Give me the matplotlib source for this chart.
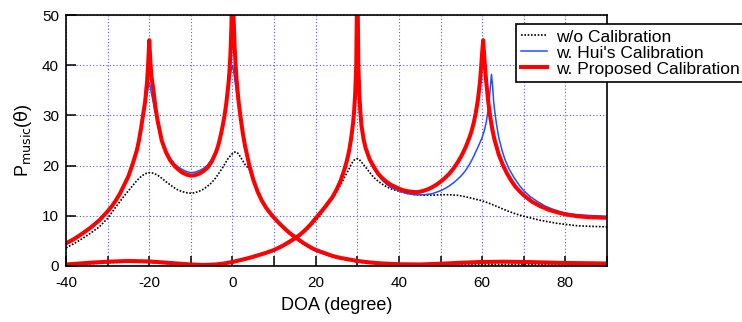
import matplotlib
matplotlib.use("Agg")
import matplotlib.pyplot as plt

plt.rcParams['font.family'] = ['Liberation Sans', 'DejaVu Sans']

# w/o calibration, source set A (peaks near -20 / 0) and set B (peaks near 30 / 60)
x_wo_a = [-40, -38, -36, -34, -32, -30, -28, -27, -26, -25, -24, -23, -22, -21, -20, -19, -18, -17, -16, -15,
          -14, -13, -12, -11, -10, -9, -8, -7, -6, -5, -4, -3, -2, -1, 0, 0.5, 1, 1.5, 2, 2.6, 3.2, 4, 5, 6, 7,
          8, 9, 10, 12, 14, 16, 18, 20, 22, 25, 28, 30, 35, 40, 50, 60, 70, 80, 90]
y_wo_a = [3.6, 4.5, 5.5, 6.6, 7.8, 9.5, 11.8, 12.9, 14.0, 15.0, 16.0, 17.0, 17.8, 18.4, 18.6, 18.5, 18.1, 17.5, 16.8, 16.2,
          15.6, 15.1, 14.8, 14.6, 14.5, 14.6, 14.9, 15.3, 15.9, 16.6, 17.6, 18.8, 20.1, 21.5, 22.4, 22.7, 22.7, 22.3, 21.6, 20.8, 20.0, 19.4, 16.9, 14.7, 12.9,
          11.5, 10.4, 9.4, 7.7, 6.2, 5.0, 3.9, 3.0, 2.4, 1.6, 1.1, 0.8, 0.4, 0.25, 0.25, 0.3, 0.3, 0.3, 0.3]
x_wo_b = [-40, -35, -30, -25, -20, -15, -10, -5, 0, 5, 10, 12, 14, 16, 18, 20, 22, 24, 25, 26, 27, 28, 28.5,
          29, 29.5, 30, 30.5, 31, 32, 33, 34, 35, 36, 37, 38, 40, 42, 44, 46, 48, 50, 52, 54, 56, 58, 60, 62,
          64, 66, 68, 70, 72, 74, 76, 78, 80, 83, 86, 90]
y_wo_b = [0.15, 0.4, 0.65, 0.8, 0.7, 0.45, 0.2, 0.15, 0.6, 1.7, 3.0, 3.8, 4.7, 5.8, 7.3, 9.0, 11.1, 13.4, 14.7, 16.2, 17.8, 19.3, 20.2,
          20.9, 21.3, 21.4, 21.2, 20.7, 19.7, 18.6, 17.6, 16.9, 16.3, 15.8, 15.4, 14.9, 14.5, 14.2, 14.1, 14.1, 14.2, 14.2, 14.1, 13.8, 13.4, 13.0, 12.4,
          11.7, 11.0, 10.4, 9.9, 9.5, 9.1, 8.8, 8.5, 8.3, 8.0, 7.9, 7.8]

# Hui's calibration
x_hui_a = [-40, -38, -36, -34, -32, -30, -29, -28, -27, -26, -25, -24, -23, -22.5, -22, -21.5, -21, -20.5, -20.25,
           -20, -19.75, -19.5, -19, -18.5, -18, -17, -16, -15, -14, -13, -12, -11, -10, -9, -8, -7, -6, -5, -4,
           -3.5, -3, -2.5, -2, -1.5, -1, -0.5, -0.25, 0, 0.25, 0.5, 0.75, 1, 1.5, 2, 2.5, 3, 4, 5, 6, 7, 8, 9, 10,
           11, 12, 13, 14, 15, 16, 17, 18, 19, 20, 22, 24, 26, 28, 30, 33, 36, 40, 45, 50, 55, 60, 65, 70, 75, 80, 85, 90]
y_hui_a = [4.7, 5.6, 6.7, 7.9, 9.3, 11.1, 12.1, 13.3, 14.7, 16.4, 18.3, 20.7, 23.2, 25.0, 27.3, 29.7, 32.2, 34.5, 35.6,
           36.5, 35.6, 34.5, 32.5, 30.5, 28.6, 25.2, 23.0, 21.5, 20.4, 19.7, 19.2, 18.8, 18.6, 18.7, 19.0, 19.4, 20.1, 21.2, 22.9,
           24.0, 25.5, 27.3, 29.5, 32.2, 35.2, 38.2, 39.3, 40.0, 39.0, 37.5, 36.0, 34.5, 31.8, 29.2, 26.5, 24.0, 20.2, 17.2, 14.9, 13.1, 11.7, 10.6, 9.6,
           8.7, 7.9, 7.1, 6.4, 5.8, 5.2, 4.6, 4.1, 3.6, 3.2, 2.6, 2.0, 1.6, 1.3, 1.0, 0.7, 0.5, 0.35, 0.3, 0.45, 0.65, 0.8, 0.85, 0.8, 0.7, 0.6, 0.55, 0.5]
x_hui_b = [-40, -35, -30, -25, -20, -15, -10, -7, -4, -2, 0, 2, 4, 6, 8, 10, 11, 12, 13, 14, 15, 16, 17, 18, 19,
           20, 21, 22, 23, 24, 25, 26, 27, 28, 28.5, 29, 29.25, 29.5, 29.75, 30, 30.25, 30.5, 30.75, 31, 31.5, 32,
           33, 34, 35, 36, 37, 38, 39, 40, 41, 42, 43, 44, 45, 46, 47, 48, 49, 50, 51, 52, 53, 54, 55, 56, 57, 58,
           59, 60, 60.5, 61, 61.5, 61.75, 62, 62.25, 62.5, 62.75, 63, 63.5, 64, 64.8, 65.5, 66.5, 67.6, 69, 70,
           71.6, 73, 75, 77, 79.6, 82, 85, 90]
y_hui_b = [0.3, 0.6, 0.85, 1.0, 0.9, 0.6, 0.3, 0.2, 0.3, 0.5, 0.8, 1.2, 1.6, 2.1, 2.6, 3.2, 3.6, 4.0, 4.5, 5.0, 5.5, 6.1, 6.8, 7.6, 8.5,
           9.5, 10.5, 11.5, 12.6, 13.7, 15.2, 17.0, 19.5, 22.6, 24.8, 28.0, 30.0, 32.8, 36.0, 40.0, 36.0, 32.5, 29.8, 27.6, 25.0, 23.2,
           21.0, 19.4, 18.1, 17.1, 16.3, 15.7, 15.3, 15.0, 14.7, 14.4, 14.3, 14.2, 14.2, 14.2, 14.3, 14.4, 14.7, 15.0, 15.4, 15.9, 16.5, 17.2, 18.0, 19.0, 20.3, 21.9,
           23.7, 25.6, 26.9, 28.7, 31.5, 33.5, 36.0, 38.2, 36.0, 33.0, 31.0, 28.0, 25.6, 23.0, 21.2, 19.3, 17.7, 16.0, 15.0,
           13.8, 13.0, 12.0, 11.3, 10.6, 10.3, 10.1, 9.9]

# proposed calibration
x_prop_a = [-40, -38, -36, -34, -32, -30, -29, -28, -27, -26, -25, -24, -23, -22.5, -22, -21.5, -21, -20.5, -20.25,
            -20, -19.75, -19.5, -19, -18.5, -18, -17, -16, -15, -14, -13, -12, -11, -10, -9, -8, -7, -6, -5, -4,
            -3.5, -3, -2.5, -2, -1.5, -1, -0.75, -0.5, -0.25, 0, 0.25, 0.5, 0.75, 1, 1.5, 2, 2.5, 3, 4, 5, 6, 7, 8,
            9, 10, 11, 12, 13, 14, 15, 16, 17, 18, 19, 20, 22, 24, 26, 28, 30, 33, 36, 40, 45, 50, 55, 60, 65, 70,
            75, 80, 85, 90]
y_prop_a = [4.5, 5.4, 6.5, 7.7, 9.1, 10.9, 11.9, 13.1, 14.5, 16.2, 17.9, 20.3, 23.0, 24.9, 27.3, 30.0, 32.7, 37.0, 40.5,
            45.0, 41.0, 38.0, 35.0, 31.5, 29.0, 25.0, 22.7, 21.1, 20.0, 19.2, 18.6, 18.2, 18.0, 18.1, 18.4, 18.9, 19.6, 20.8, 22.6,
            23.8, 25.4, 27.3, 29.5, 32.3, 36.0, 38.5, 42.0, 48.0, 60.0, 50.0, 44.0, 40.0, 37.0, 32.5, 29.3, 26.4, 24.0, 20.2, 17.2, 14.9, 13.1, 11.7,
            10.6, 9.6, 8.7, 7.9, 7.1, 6.4, 5.8, 5.2, 4.6, 4.1, 3.6, 3.2, 2.6, 2.0, 1.6, 1.3, 1.0, 0.7, 0.5, 0.35, 0.3, 0.45, 0.65, 0.8, 0.85, 0.8,
            0.7, 0.6, 0.55, 0.5]
x_prop_b = [-40, -35, -30, -25, -20, -15, -10, -7, -4, -2, 0, 2, 4, 6, 8, 10, 11, 12, 13, 14, 15, 16, 17, 18, 19,
            20, 21, 22, 23, 24, 25, 26, 27, 27.5, 28, 28.5, 29, 29.25, 29.5, 29.75, 30, 30.25, 30.5, 30.75, 31, 31.5,
            32, 33, 34, 35, 36, 37, 38, 39, 40, 41, 42, 43, 44, 45, 46, 47, 48, 49, 50, 51, 52, 53, 54, 55, 56, 57,
            57.5, 58, 58.5, 59, 59.5, 59.75, 60, 60.25, 60.5, 60.75, 61, 61.5, 62, 62.5, 63, 64, 65, 66, 67, 68, 69,
            70, 72, 74, 76, 78, 80, 83, 86, 90]
y_prop_b = [0.3, 0.6, 0.85, 1.0, 0.9, 0.6, 0.3, 0.2, 0.3, 0.5, 0.8, 1.2, 1.6, 2.1, 2.6, 3.2, 3.6, 4.0, 4.5, 5.0, 5.5, 6.1, 6.8, 7.6, 8.5,
            9.5, 10.5, 11.5, 12.6, 13.7, 15.2, 17.0, 19.5, 21.0, 22.8, 25.3, 28.6, 31.0, 34.5, 40.0, 60.0, 40.0, 34.0, 30.5, 28.0, 25.3,
            23.5, 21.2, 19.7, 18.4, 17.5, 16.8, 16.2, 15.8, 15.4, 15.1, 14.9, 14.8, 14.7, 14.8, 15.0, 15.3, 15.7, 16.2, 16.8, 17.5, 18.3, 19.3, 20.5, 21.9, 23.6, 25.7,
            27.0, 28.6, 30.6, 33.2, 36.8, 39.5, 42.5, 45.0, 42.0, 39.0, 36.6, 32.5, 29.4, 27.0, 25.1, 22.2, 20.1, 18.4, 17.0, 15.8, 14.9,
            14.1, 12.8, 11.9, 11.2, 10.7, 10.3, 9.9, 9.7, 9.6]

xticks = [-40, -20, 0, 20, 40, 60, 80]

fig = plt.figure(figsize=(7.42, 3.22), dpi=100)
ax = fig.add_axes([0.089, 0.174, 0.729, 0.779])

ax.plot(x_wo_a, y_wo_a, color='black', ls=(0, (1, 1)), lw=1.2, label='w/o Calibration')
ax.plot(x_wo_b, y_wo_b, color='black', ls=(0, (1, 1)), lw=1.2)
ax.plot(x_hui_a, y_hui_a, color='#1f4fff', lw=1.1, label="w. Hui's Calibration")
ax.plot(x_hui_b, y_hui_b, color='#1f4fff', lw=1.1)
ax.plot(x_prop_a, y_prop_a, color='#ff0000', lw=2.9, label='w. Proposed Calibration')
ax.plot(x_prop_b, y_prop_b, color='#ff0000', lw=2.9)

ax.set_xlim(-40, 90)
ax.set_ylim(0, 50)
ax.set_xticks(range(-40, 91, 10))
ax.set_xticklabels([str(t) if t in xticks else '' for t in range(-40, 91, 10)])
ax.set_yticks(range(0, 51, 10))
ax.grid(True, color='#5555ff', ls=(0, (1, 2)), lw=0.8)
ax.set_axisbelow(True)
ax.tick_params(direction='in', length=7, width=1.1, labelsize=11, top=False, right=False)
ax.tick_params(axis='x', pad=7)
ax.tick_params(axis='y', pad=5)
for s in ax.spines.values():
    s.set_linewidth(1.2)

ax.set_xlabel('DOA (degree)', fontsize=13, labelpad=5)
ax.set_ylabel(r'P$_{\mathrm{music}}$($\mathrm{\theta}$)', fontsize=13, labelpad=6)

leg = ax.legend(loc='upper left', bbox_to_anchor=(0.695, 0.925), bbox_transform=fig.transFigure,
                borderaxespad=0, fontsize=12.5, fancybox=False, framealpha=1, edgecolor='black',
                handlelength=1.5, handletextpad=0.5, labelspacing=0.05, borderpad=0.3)
leg.get_frame().set_linewidth(1.2)

fig.savefig('out.png', dpi=100)
